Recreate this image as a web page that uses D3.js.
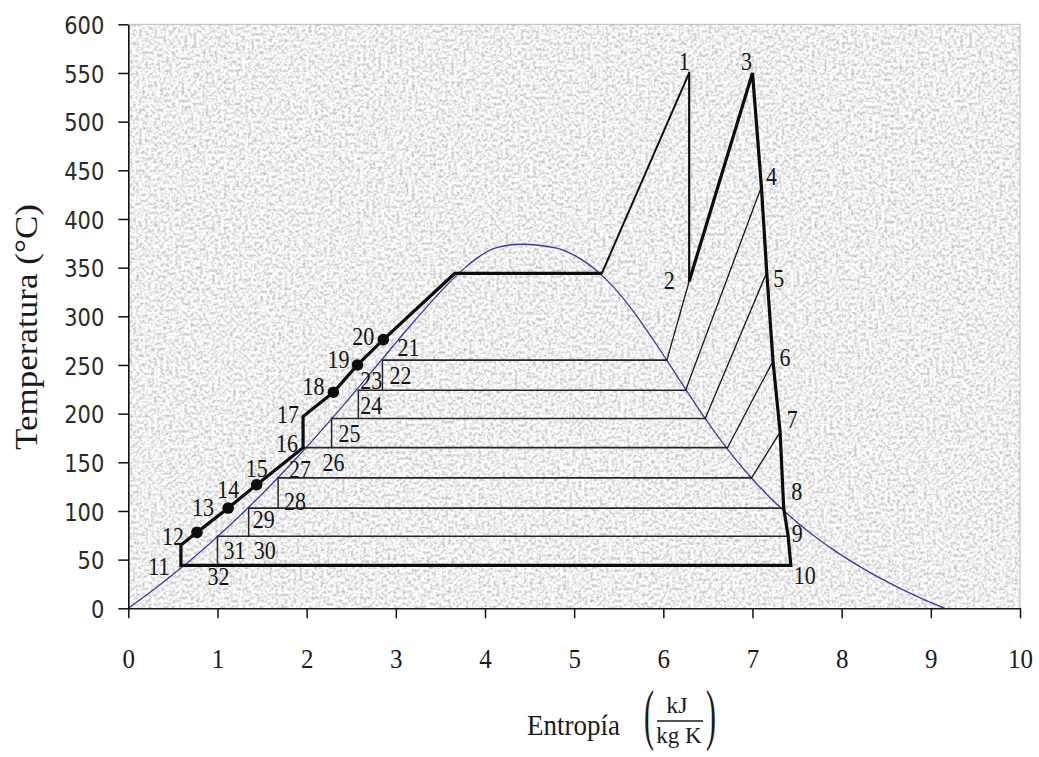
<!DOCTYPE html>
<html>
<head>
<meta charset="utf-8">
<script src="https://cdn.jsdelivr.net/npm/d3@7"></script>
<style>
  body { margin: 0; background: #fff; }
  svg { display: block; }
</style>
</head>
<body>
<svg id="chart" width="1039" height="757"></svg>
<script>
// ---------------------------------------------------------------
// Regenerative Rankine cycle with reheat, T-s diagram (water)
// ---------------------------------------------------------------

// Saturation dome: entropy (kJ/kg K) and temperature (°C),
// saturated liquid side up to the critical point, then saturated vapour side down.
const domeS = [0, 0.151, 0.2966, 0.4369, 0.5724, 0.7038, 0.8312, 0.9549, 1.0753, 1.1925,
  1.3069, 1.4185, 1.5276, 1.6344, 1.7391, 1.8418, 1.9427, 2.0419, 2.1396, 2.2359,
  2.3309, 2.4248, 2.5178, 2.6099, 2.7015, 2.7927, 2.8838, 2.9751, 3.0668, 3.1594,
  3.2534, 3.3493, 3.4480, 3.5507, 3.6594, 3.7777, 3.9147, 4.1106, 4.407,
  4.8012, 5.0526, 5.2112, 5.3357, 5.4417, 5.5362, 5.6230, 5.7045, 5.7821, 5.8571,
  5.9301, 6.0019, 6.0730, 6.1437, 6.2146, 6.2861, 6.3585, 6.4323, 6.5079, 6.5857,
  6.6663, 6.7502, 6.8379, 6.9299, 7.0269, 7.1296, 7.2387, 7.3549, 7.4791, 7.6122,
  7.7553, 7.9096, 8.0763, 8.2569, 8.4533, 8.6672, 8.9008, 9.1562];
const domeT = [0, 10, 20, 30, 40, 50, 60, 70, 80, 90,
  100, 110, 120, 130, 140, 150, 160, 170, 180, 190,
  200, 210, 220, 230, 240, 250, 260, 270, 280, 290,
  300, 310, 320, 330, 340, 350, 360, 370, 374,
  370, 360, 350, 340, 330, 320, 310, 300, 290, 280,
  270, 260, 250, 240, 230, 220, 210, 200, 190, 180,
  170, 160, 150, 140, 130, 120, 110, 100, 90, 80,
  70, 60, 50, 40, 30, 20, 10, 0];

// Numbered cycle states
const stateNames = ["1","2","3","4","5","6","7","8","9","10",
  "11","12","13","14","15","16","17","18","19","20",
  "21","22","23","24","25","26","27","28","29","30","31","32"];
const stateS = [6.29, 6.29, 7.00, 7.10, 7.16, 7.23, 7.31, 7.35, 7.40, 7.43,
  0.59, 0.59, 0.77, 1.12, 1.44, 1.96, 1.96, 2.30, 2.57, 2.86,
  2.85, 2.85, 2.58, 2.58, 2.28, 2.28, 1.68, 1.68, 1.35, 1.35, 1.00, 1.00];
const stateT = [550, 336, 550, 433, 345, 254, 181, 103, 74, 44,
  44, 65, 78, 103, 127, 165, 197, 222, 250, 276,
  255, 224, 224, 195, 195, 165, 134, 103, 103, 74, 74, 44];

// Boiler evaporation at the boiler pressure
const boilT = 344;
const boilLiqS = 3.66;
const boilVapS = 5.31;

// Feedwater heaters: saturation temperature, liquid end, vapour end, bleed state
const heaterT    = [255, 224, 195, 165, 134, 103, 74];
const heaterLiqS = [2.85, 2.58, 2.28, 1.96, 1.68, 1.35, 1.00];
const heaterVapS = [6.04, 6.25, 6.47, 6.72, 6.99, 7.35, 7.40];
const heaterBleed = ["2", "4", "5", "6", "7", null, null];

// Heater drains cascading to the next heater (from state -> to state)
const drainFrom = ["21", "23", "25", "27", "29", "31"];
const drainTo   = ["22", "24", "26", "28", "30", "32"];

// States marked with a dot on the feedwater line
const dotStates = ["13", "14", "15", "18", "19", "20"];

// Axis ticks
const xTicks = [0, 1, 2, 3, 4, 5, 6, 7, 8, 9, 10];
const yTicks = [0, 50, 100, 150, 200, 250, 300, 350, 400, 450, 500, 550, 600];

// ---------------------------------------------------------------
const W = 1039, H = 757;
const plot = { left: 128.3, right: 1020, top: 24.3, bottom: 608.3 };

const x = d3.scaleLinear().domain([0, 10]).range([plot.left, plot.right]);
const y = d3.scaleLinear().domain([0, 600]).range([plot.bottom, plot.top]);

const st = {};
stateNames.forEach((n, i) => { st[n] = { s: stateS[i], T: stateT[i] }; });

const svg = d3.select("#chart");
svg.append("rect").attr("width", W).attr("height", H).attr("fill", "#fff");

// granite-like plot area fill
const defs = svg.append("defs");
const filt = defs.append("filter").attr("id", "granite")
  .attr("x", 0).attr("y", 0).attr("width", 1).attr("height", 1)
  .attr("color-interpolation-filters", "sRGB");
filt.append("feTurbulence").attr("type", "fractalNoise")
  .attr("baseFrequency", 0.33).attr("numOctaves", 3).attr("seed", 11).attr("result", "noise");
filt.append("feColorMatrix").attr("in", "noise").attr("type", "matrix")
  .attr("values", "0.55 0 0 0 0.66  0.55 0 0 0 0.66  0.55 0 0 0 0.66  0 0 0 0 1");

svg.append("rect")
  .attr("x", plot.left).attr("y", plot.top)
  .attr("width", plot.right - plot.left).attr("height", plot.bottom - plot.top)
  .attr("fill", "#e8e8e8")
  .attr("filter", "url(#granite)");
svg.append("path")
  .attr("d", `M${plot.left},${plot.top}H${plot.right}V${plot.bottom}`)
  .attr("fill", "none").attr("stroke", "#bdbdbd").attr("stroke-width", 1);

const line = d3.line().x(d => x(d.s)).y(d => y(d.T));

// saturation dome
const dome = domeS.map((s, i) => ({ s, T: domeT[i] }));
svg.append("path")
  .attr("d", d3.line().x(d => x(d.s)).y(d => y(d.T)).curve(d3.curveMonotoneX)(dome))
  .attr("fill", "none").attr("stroke", "#3a3aa6").attr("stroke-width", 1.3);

const gThin = svg.append("g").attr("fill", "none").attr("stroke-linecap", "round");

// heater horizontals
heaterT.forEach((T, i) => {
  gThin.append("path")
    .attr("d", line([{ s: heaterLiqS[i], T }, { s: heaterVapS[i], T }]))
    .attr("stroke", "#262626").attr("stroke-width", 1.7);
});

// bleed lines from the turbine to the heater vapour point
heaterBleed.forEach((b, i) => {
  if (!b) return;
  gThin.append("path")
    .attr("d", line([st[b], { s: heaterVapS[i], T: heaterT[i] }]))
    .attr("stroke", "#1a1a1a").attr("stroke-width", 1.3);
});

// drain throttling
drainFrom.forEach((a, i) => {
  gThin.append("path")
    .attr("d", line([st[a], st[drainTo[i]]]))
    .attr("stroke", "#262626").attr("stroke-width", 1.5);
});

// superheater and HP expansion
gThin.append("path")
  .attr("d", line([{ s: boilVapS, T: boilT }, st["1"]]))
  .attr("stroke", "#111").attr("stroke-width", 2);
gThin.append("path")
  .attr("d", line([st["1"], st["2"]]))
  .attr("stroke", "#111").attr("stroke-width", 2.2);

// main cycle path (thick)
const mainPath = ["2", "3", "4", "5", "6", "7", "8", "9", "10", "11", "12", "13", "14", "15", "16", "17", "18", "19", "20"]
  .map(n => st[n])
  .concat([{ s: boilLiqS, T: boilT }, { s: boilVapS, T: boilT }]);
svg.append("path")
  .attr("d", line(mainPath))
  .attr("fill", "none").attr("stroke", "#0d0d0d").attr("stroke-width", 3.2)
  .attr("stroke-linejoin", "miter");

// feedwater dots
svg.append("g").selectAll("circle").data(dotStates).join("circle")
  .attr("cx", n => x(st[n].s)).attr("cy", n => y(st[n].T))
  .attr("r", 5.8).attr("fill", "#0d0d0d");

// state labels
const labelOffset = {
  "1": [-5, -11], "2": [-20, -1], "3": [-6, -11], "4": [10, -10], "5": [12, 6],
  "6": [12, -3], "7": [12, -12], "8": [13, -16], "9": [9, -3], "10": [14, 10],
  "11": [-22, 1], "12": [-8, -8], "13": [6, -25], "14": [0, -18], "15": [0, -16],
  "16": [-16, -4], "17": [-15, -2], "18": [-20, -6], "19": [-19, -5], "20": [-20, -3],
  "21": [26, -12], "22": [18, -15], "23": [13, -10], "24": [13, -13], "25": [18, 15],
  "26": [2, 15], "27": [22, -8], "28": [17, -6], "29": [15, 12], "30": [16, 14],
  "31": [17, 14], "32": [1, 11]
};
svg.append("g").selectAll("text").data(stateNames).join("text")
  .attr("transform", n => {
    const o = labelOffset[n];
    return `translate(${x(st[n].s) + o[0]},${y(st[n].T) + o[1]}) scale(1,1.1)`;
  })
  .attr("text-anchor", "middle").attr("dominant-baseline", "central")
  .style("font-family", "'Liberation Serif', 'Times New Roman', serif")
  .style("font-size", "22px").attr("fill", "#151515")
  .text(n => n);

// axes
const gy = svg.append("g").attr("transform", `translate(${plot.left},0)`)
  .call(d3.axisLeft(y).tickValues(yTicks).tickSize(10).tickSizeOuter(0).tickFormat(d3.format("d")));
const gx = svg.append("g").attr("transform", `translate(0,${plot.bottom})`)
  .call(d3.axisBottom(x).tickValues(xTicks).tickSize(10).tickSizeOuter(0).tickFormat(d3.format("d")));
[gy, gx].forEach(g => {
  g.select(".domain").attr("stroke", "#111").attr("stroke-width", 1.6);
  g.selectAll(".tick line").attr("stroke", "#111").attr("stroke-width", 1.5);
});
gy.selectAll(".tick text")
  .attr("x", null).attr("dy", null)
  .attr("transform", "translate(-24,0) scale(1,1.2)")
  .attr("dominant-baseline", "central").attr("text-anchor", "end")
  .style("font-family", "'DejaVu Sans', Verdana, sans-serif")
  .style("font-size", "21px").attr("fill", "#2a2a2a");
gx.selectAll(".tick text")
  .attr("y", null).attr("dy", null)
  .attr("transform", "translate(0,50) scale(1,1.12)")
  .attr("dominant-baseline", "central").attr("text-anchor", "middle")
  .style("font-family", "'Liberation Serif', 'Times New Roman', serif")
  .style("font-size", "25px").attr("fill", "#1a1a1a");

// axis titles
const serif = "'Liberation Serif', 'Times New Roman', serif";
svg.append("text")
  .attr("transform", "translate(37,327) rotate(-90) scale(1.13,1)")
  .attr("text-anchor", "middle")
  .style("font-family", serif).style("font-size", "31px").attr("fill", "#1a1a1a")
  .text("Temperatura (°C)");

svg.append("text")
  .attr("transform", "translate(527,735) scale(1,1.1)")
  .style("font-family", serif).style("font-size", "27px").attr("fill", "#1a1a1a")
  .text("Entropía");

// unit fraction kJ / (kg K) in tall parentheses
const unit = svg.append("g").style("font-family", serif).attr("fill", "#1a1a1a");
unit.append("text").attr("transform", "translate(649,719) scale(1,2.25)")
  .attr("y", 7.8).attr("text-anchor", "middle").style("font-size", "30px").text("(");
unit.append("text").attr("transform", "translate(711,719) scale(1,2.25)")
  .attr("y", 7.8).attr("text-anchor", "middle").style("font-size", "30px").text(")");
unit.append("text").attr("x", 677).attr("y", 713).attr("text-anchor", "middle")
  .style("font-size", "24px").text("kJ");
unit.append("line").attr("x1", 657).attr("x2", 703).attr("y1", 721).attr("y2", 721)
  .attr("stroke", "#1a1a1a").attr("stroke-width", 1.5);
unit.append("text").attr("x", 679).attr("y", 743).attr("text-anchor", "middle")
  .style("font-size", "23px").text("kg K");
</script>
</body>
</html>
